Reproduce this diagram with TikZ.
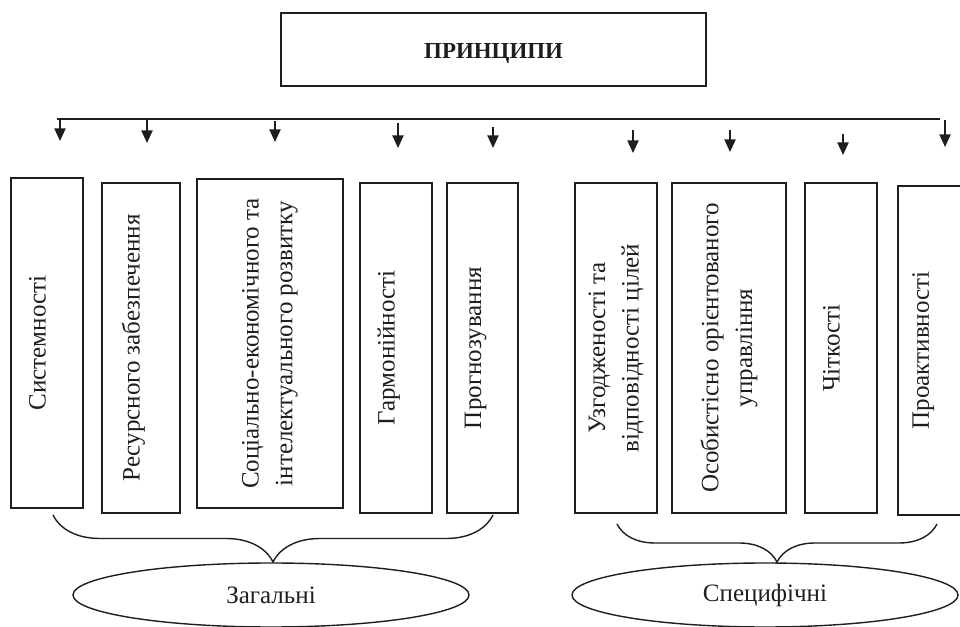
\documentclass[tikz,border=0pt]{standalone}
\usepackage{fontspec}
\setmainfont{Liberation Serif}
\usetikzlibrary{arrows.meta,shapes.geometric,decorations.pathreplacing}
\definecolor{FrameInk}{HTML}{1E1E1E}
\tikzset{
  scheme/.style={font=\fontsize{17.8}{24}\selectfont,text=FrameInk},
  header/.style={draw=FrameInk,line width=1.4pt,minimum width=10.625cm,minimum height=1.825cm,text height=0.55cm,font=\bfseries\fontsize{16.3}{19}\selectfont},
  pillar/.style={draw=FrameInk,line width=1.4pt,rotate=90,minimum width=8.25cm,align=center,inner sep=0pt},
  single/.style={pillar,text height=0.43cm,text depth=0.5cm},
  group/.style={ellipse,draw=FrameInk,line width=1pt,minimum height=1.6cm,inner sep=0pt},
  drop/.style={-{Triangle[length=9pt,width=8pt]},line width=1.1pt,draw=FrameInk},
  bracket/.style={draw=FrameInk,line width=1pt,decorate,decoration={brace,mirror,amplitude=#1}},
}

\begin{document}
\begin{tikzpicture}[scheme]
  \useasboundingbox (0,0) rectangle (24,15.65);

  \node[header] (top) at (12.34,14.41) {ПРИНЦИПИ};

  \draw[line width=1pt,draw=FrameInk] (1.425,12.675) coordinate (barL) -- (23.5,12.675) coordinate (barR);
  \foreach \n/\x/\ya/\yb in {1/1.5/12.675/12.125, 2/3.675/12.675/12.075, 3/6.875/12.625/12.1,
      4/9.95/12.575/11.95, 5/12.325/12.475/11.95, 6/15.825/12.4/11.825,
      7/18.25/12.4/11.85, 8/21.075/12.3/11.775, 9/23.625/12.65/11.975}{
    \coordinate (from\n) at (\x,\ya);
    \coordinate (to\n) at (\x,\yb);
    \draw[drop] (from\n) -- (to\n);
  }

  \node[single,minimum height=1.8cm] (sys) at (1.175,7.075) {Системності};
  \node[single,minimum height=1.95cm] (res) at (3.525,6.95) {Ресурсного забезпечення};
  \node[pillar,minimum height=3.65cm,minimum width=8.225cm] (soc) at (6.75,7.0625)
    {Соціально-економічного та\\інтелектуального розвитку};
  \node[single,minimum height=1.8cm] (harm) at (9.9,6.95) {Гармонійності};
  \node[single,minimum height=1.775cm] (prog) at (12.0625,6.95) {Прогнозування};
  \node[pillar,minimum height=2.05cm] (agree) at (15.4,6.95)
    {Узгодженості та\\відповідності цілей};
  \node[pillar,minimum height=2.85cm] (pers) at (18.225,6.95)
    {Особистісно орієнтованого\\управління};
  \node[single,minimum height=1.8cm] (clar) at (21.025,6.95) {Чіткості};
  \node[pillar,text height=0.77cm,text depth=1.1cm,minimum width=8.225cm] (proact) at (23.385,6.8875)
    {Проактивності};

  \coordinate (genL) at (1.325,2.775);
  \coordinate (genR) at (12.325,2.775);
  \coordinate (specL) at (15.425,2.55);
  \coordinate (specR) at (23.425,2.55);
  \draw[bracket=1.175cm] (genL) -- (genR);
  \draw[bracket=0.95cm] (specL) -- (specR);

  \node[group,minimum width=9.9cm] (gen) at (6.775,0.775) {Загальні};
  \node[group,minimum width=9.65cm] (spec) at (19.125,0.775) {Специфічні};
\end{tikzpicture}
\end{document}
